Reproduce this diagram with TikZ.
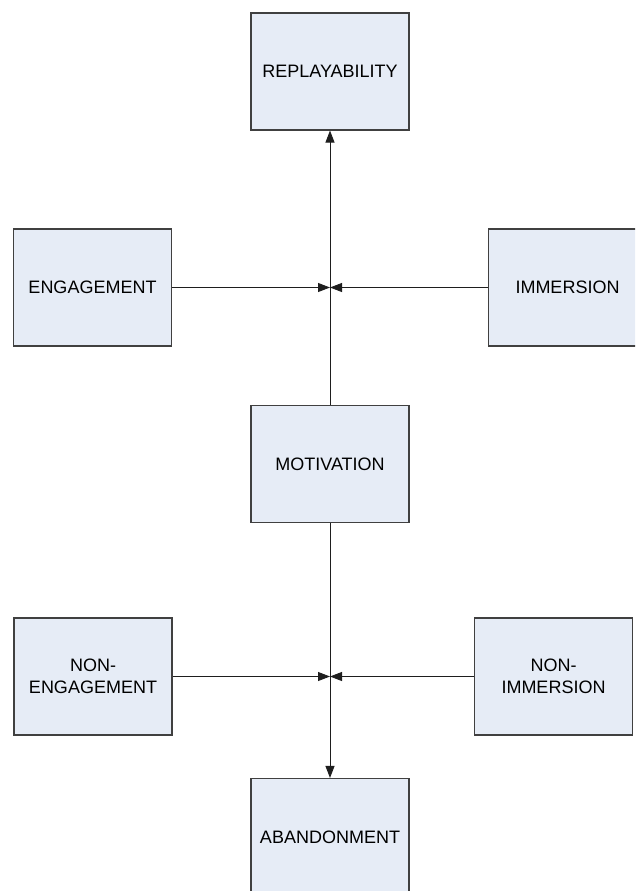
\documentclass[tikz,border=0pt]{standalone}
\usepackage{fontspec}
\setmainfont{Liberation Sans}
\usetikzlibrary{arrows.meta}
\definecolor{boxfill}{RGB}{230,236,246}
\definecolor{boxdraw}{RGB}{64,64,64}
\definecolor{linecol}{RGB}{30,30,30}
\tikzset{
  blockbox/.style={draw=boxdraw, fill=boxfill, line width=1.1pt,
    minimum width=158pt, minimum height=117pt, inner sep=0pt,
    align=center, font=\fontsize{18}{21.5}\selectfont, text=black},
  conn/.style={draw=linecol, line width=0.9pt},
  arr/.style={conn, -{Triangle[length=12pt,width=9pt]}}
}
\begin{document}
\begin{tikzpicture}[x=1pt,y=-1pt]
\useasboundingbox (0,0) rectangle (635,891);
\clip (0,0) rectangle (635,891);
\node[blockbox] (rep) at (330,71.5) {REPLAYABILITY};
\node[blockbox] (eng) at (92.5,287.5) {ENGAGEMENT};
\node[blockbox] (imm) at (567.5,287.5) {IMMERSION};
\node[blockbox] (mot) at (330,464) {MOTIVATION};
\node[blockbox] (neng) at (93,676.5) {NON-\\ENGAGEMENT};
\node[blockbox] (nimm) at (553.5,676.5) {NON-\\IMMERSION};
\node[blockbox] (aba) at (330,837) {ABANDONMENT};
\coordinate (j1) at (330,287.5);
\coordinate (j2) at (330,676.5);
\draw[arr] (mot.north) -- (rep.south);
\draw[arr] (eng.east) -- (j1);
\draw[arr] (imm.west) -- (j1);
\draw[arr] (mot.south) -- (aba.north);
\draw[arr] (neng.east) -- (j2);
\draw[arr] (nimm.west) -- (j2);
\end{tikzpicture}
\end{document}
